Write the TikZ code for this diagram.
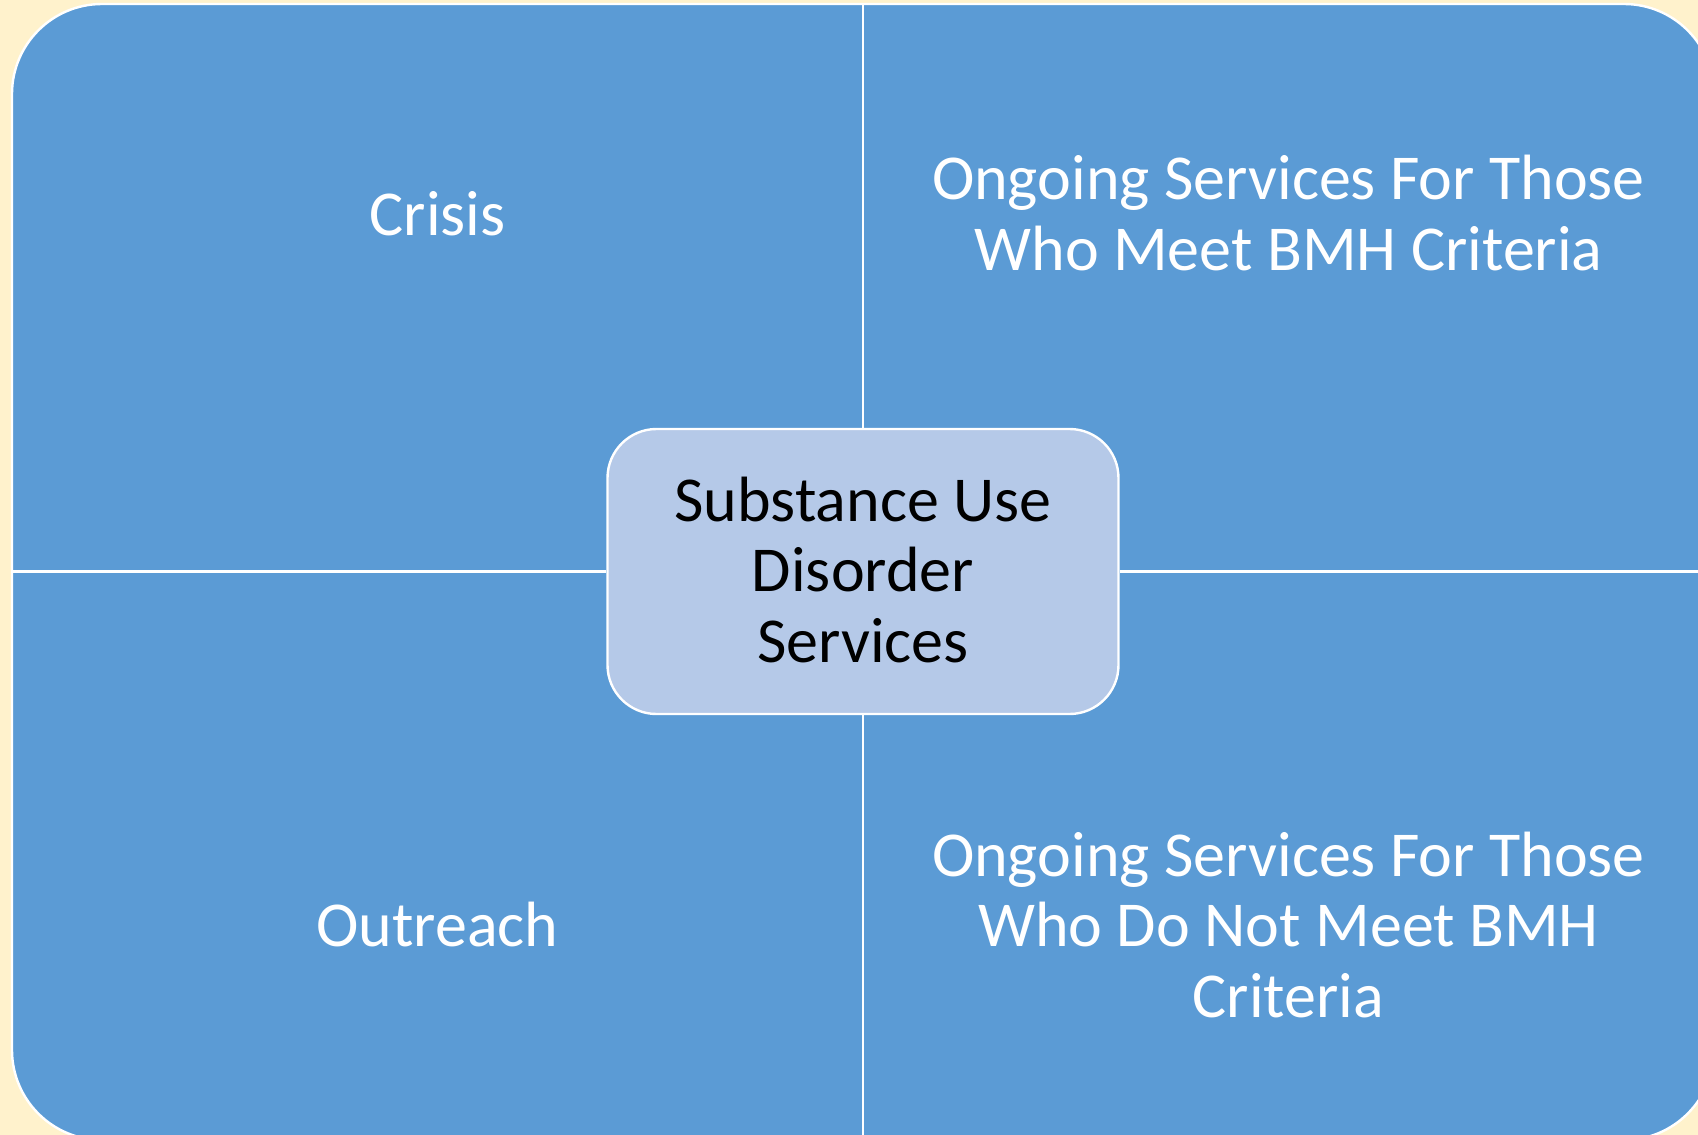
\documentclass[tikz,border=0pt]{standalone}
\usepackage{fontspec}
\setmainfont{Carlito}
\definecolor{bgcream}{HTML}{FFF2CC}
\definecolor{quadblue}{HTML}{5B9BD5}
\definecolor{centerblue}{HTML}{B5C9E8}
\begin{document}
\begin{tikzpicture}[x=0.5pt,y=-0.5pt,
  outline/.style={draw=white,line width=1.2pt},
  divider/.style={draw=white,line width=1.1pt},
  bigfont/.style={font=\fontsize{32}{35.4}\selectfont},
  quadtext/.style={bigfont,text=white,align=center,inner sep=0pt},
  centerbox/.style={fill=centerblue,draw=white,line width=1.2pt,rounded corners=24.5pt,
     minimum width=255.5pt,minimum height=142.5pt,inner sep=0pt},
  centertext/.style={bigfont,text=black,align=center,inner sep=0pt}
]
\useasboundingbox (0,0) rectangle (1698,1135);
\clip (0,0) rectangle (1698,1135);
\fill[bgcream] (0,0) rectangle (1698,1135);
\draw[outline,fill=quadblue,rounded corners=45pt] (12,4) rectangle (1714,1140);
\coordinate (topedge) at (863,4);
\coordinate (bottomedge) at (863,1140);
\coordinate (leftedge) at (12,571.5);
\coordinate (rightedge) at (1714,571.5);
\node[centerbox] (c) at (863,571.5) {};
\node[centertext] (ctext) at (863,570) {Substance Use\\Disorder\\Services};
\draw[divider] (topedge) -- (c.north);
\draw[divider] (c.south) -- (bottomedge);
\draw[divider] (leftedge) -- (c.west);
\draw[divider] (c.east) -- (rightedge);
\node[quadtext] (crisis) at (437.5,214) {Crisis};
\node[quadtext] (ongoing) at (1288.5,213) {Ongoing Services For Those\\Who Meet BMH Criteria};
\node[quadtext] (outreach) at (437.5,925) {Outreach};
\node[quadtext] (ongoingnot) at (1288.5,925) {Ongoing Services For Those\\Who Do Not Meet BMH\\Criteria};
\end{tikzpicture}
\end{document}
